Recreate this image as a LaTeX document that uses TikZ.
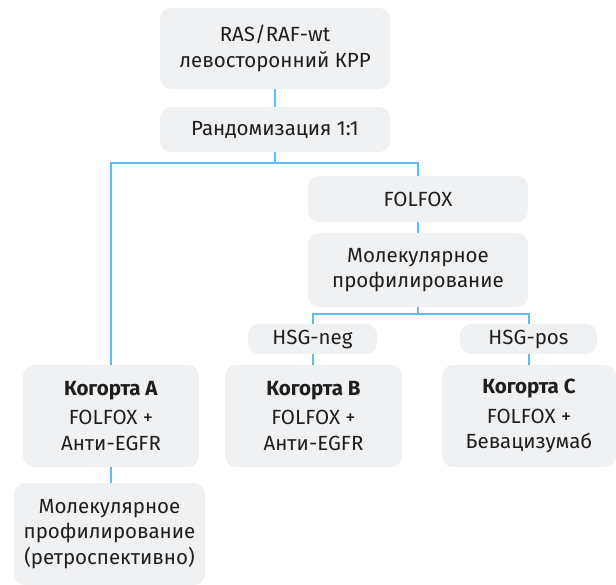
\documentclass[tikz,border=0pt]{standalone}
\usepackage{fontspec}
\setmainfont{Fira Sans}
\definecolor{boxgray}{HTML}{F0F1F3}
\definecolor{lineblue}{HTML}{5BBFEE}
\definecolor{textc}{HTML}{1E1E1E}
\begin{document}
\begin{tikzpicture}[x=1pt,y=-1pt,
  box/.style={fill=boxgray, rounded corners=11pt, align=center, inner sep=0pt,
    font=\fontsize{20.5}{25.5}\selectfont, text=textc},
  conn/.style={draw=lineblue, line width=2pt}]
\useasboundingbox (0,0) rectangle (616,585);
\node[box, minimum width=230pt, minimum height=81pt] (top) at (275,48.5) {RAS/RAF-wt\\левосторонний КРР};
\node[box, minimum width=230pt, minimum height=45pt] (rand) at (275,129.5) {Рандомизация 1:1};
\node[box, minimum width=220pt, minimum height=46pt] (folfox) at (418,199) {FOLFOX};
\node[box, minimum width=220pt, minimum height=74pt] (prof) at (418,270) {Молекулярное\\профилирование};
\node[box, minimum width=129pt, minimum height=30pt] (neg) at (312.5,339) {HSG-neg};
\node[box, minimum width=137pt, minimum height=30pt] (pos) at (528.5,339) {HSG-pos};
\node[box, minimum width=176pt, minimum height=102pt] (A) at (111,416) {\textbf{Когорта A}\\[4pt]FOLFOX +\\Анти-EGFR};
\node[box, minimum width=177pt, minimum height=102pt] (B) at (313.5,416) {\textbf{Когорта B}\\[4pt]FOLFOX +\\Анти-EGFR};
\node[box, minimum width=174pt, minimum height=102pt] (C) at (529,416) {\textbf{Когорта C}\\[4pt]FOLFOX +\\Бевацизумаб};
\node[box, minimum width=191pt, minimum height=102pt] (R) at (109.5,534) {Молекулярное\\профилирование\\(ретроспективно)};
\coordinate (bus) at (0,163);
\coordinate (bus2) at (0,314);
\draw[conn] (top) -- (rand);
\draw[conn] (rand.south) -- (rand.south |- bus);
\draw[conn] (A.north) -- (A.north |- bus) -- (folfox.north |- bus) -- (folfox.north);
\draw[conn] (folfox) -- (prof);
\draw[conn] (prof.south) -- (prof.south |- bus2);
\draw[conn] (neg.north) -- (neg.north |- bus2) -- (pos.north |- bus2) -- (pos.north);
\draw[conn] (neg.south) -- (neg.south |- B.north);
\draw[conn] (pos.south) -- (pos.south |- C.north);
\draw[conn] (A.south) -- (A.south |- R.north);
\end{tikzpicture}
\end{document}
